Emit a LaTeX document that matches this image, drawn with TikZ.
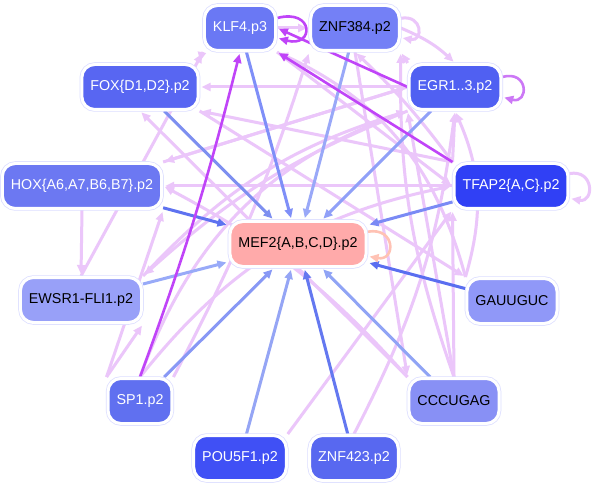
\documentclass[tikz,border=0pt]{standalone}
\usepackage{fontspec}
\setmainfont{Liberation Sans}
\usetikzlibrary{arrows.meta}
\pgfdeclarelayer{bg}
\pgfsetlayers{bg,main}
\definecolor{cKLF}{HTML}{6A78F4}
\definecolor{cZNFa}{HTML}{7480F6}
\definecolor{cFOX}{HTML}{5866F2}
\definecolor{cEGR}{HTML}{5060F2}
\definecolor{cHOX}{HTML}{6C78F2}
\definecolor{cTFAP}{HTML}{3040F5}
\definecolor{cMEF}{HTML}{FFAAAA}
\definecolor{cEWS}{HTML}{98A0F8}
\definecolor{cGAU}{HTML}{9098F8}
\definecolor{cSP}{HTML}{6070F0}
\definecolor{cCCC}{HTML}{8890F5}
\definecolor{cPOU}{HTML}{4050F5}
\definecolor{cZNFb}{HTML}{5868F0}
\definecolor{ring}{HTML}{DCDEFF}
\definecolor{pink}{HTML}{EBC6FA}
\definecolor{strong}{HTML}{C044F8}
\definecolor{loopc}{HTML}{CC78F6}
\definecolor{mefloop}{HTML}{FFC2B4}
\definecolor{bA}{HTML}{7F8FF8}
\definecolor{bB}{HTML}{99A8F8}
\definecolor{bC}{HTML}{7D8FF0}
\definecolor{bD}{HTML}{90A0F8}
\definecolor{bE}{HTML}{5E72F0}
\definecolor{bF}{HTML}{7A8AF5}
\definecolor{bG}{HTML}{98AAF8}
\definecolor{bH}{HTML}{5A6EF0}
\definecolor{bI}{HTML}{8898F5}
\definecolor{bJ}{HTML}{90A4F5}
\definecolor{bK}{HTML}{95A5F5}
\definecolor{bL}{HTML}{6478F0}
\tikzset{
  box/.style={rectangle, rounded corners=13pt, minimum height=45pt, inner xsep=8.5pt,
    font=\fontsize{14.3pt}{16pt}\selectfont,
    preaction={draw=ring, line width=4.5pt}, draw=white, line width=3pt},
  tip/.style={-{Triangle[length=9pt,width=8pt]}},
  tf/.style={tip, line width=3pt, draw=#1, shorten >=2pt},
  pk/.style={tip, line width=3pt, draw=pink, shorten >=2pt},
  st/.style={tip, line width=2.6pt, draw=strong, shorten >=2pt},
}
\begin{document}
\begin{tikzpicture}[x=1pt,y=-1pt]
\useasboundingbox (0,0) rectangle (597,489);
\begin{pgfonlayer}{bg}
\fill[white] (0,0) rectangle (597,489);
\end{pgfonlayer}

\node[box, fill=cKLF, text=white] (klf) at (240,28) {KLF4.p3};
\node[box, fill=cZNFa, text=black] (znfa) at (355,28) {ZNF384.p2};
\node[box, fill=cFOX, text=white] (fox) at (140,87) {FOX\{D1,D2\}.p2};
\node[box, fill=cEGR, text=white] (egr) at (455,87) {EGR1..3.p2};
\node[box, fill=cHOX, text=white] (hox) at (82,186) {HOX\{A6,A7,B6,B7\}.p2};
\node[box, fill=cTFAP, text=white] (tfap) at (511,186) {TFAP2\{A,C\}.p2};
\node[box, fill=cMEF, text=black] (mef) at (298,244) {MEF2\{A,B,C,D\}.p2};
\node[box, fill=cEWS, text=black] (ews) at (81,300) {EWSR1-FLI1.p2};
\node[box, fill=cGAU, text=black] (gau) at (512,301) {GAUUGUC};
\node[box, fill=cSP, text=white] (sp) at (140,401) {SP1.p2};
\node[box, fill=cCCC, text=black] (ccc) at (454,401) {CCCUGAG};
\node[box, fill=cPOU, text=white] (pou) at (240,458) {POU5F1.p2};
\node[box, fill=cZNFb, text=white] (znfb) at (354,458) {ZNF423.p2};

\begin{pgfonlayer}{bg}
% pink edges
\draw[pk] (klf) -- (znfa);
\draw[pk] (znfa.12) to[out=10,in=-10,looseness=3] (znfa.-12);
\draw[pk] (klf.south west) to[bend right=5] (fox.north east);
\draw[pk] (egr) -- (fox);
\draw[pk] (egr.north west) -- (znfa.south east);
\draw[pk] (znfa.east) to[bend left=10] (egr.north);
\draw[pk] (tfap.west) -- (hox.east);
\draw[pk] (tfap.north west) -- (fox.south east);
\draw[pk] (tfap.north west) -- (egr.south);
\draw[pk] (tfap.12) to[out=10,in=-10,looseness=2.6] (tfap.-12);
\draw[pk] (hox.north east) -- (egr.west);
\draw[pk] (ews.north east) to[bend left=15] (egr.south west);
\draw[pk] (hox.south) -- (ews.north);
\draw[pk] (sp.north west) -- (hox.south east);
\draw[pk] (sp.north west) -- (ews.south east);
\draw[pk] (sp.north) to[bend left=25] (egr.south west);
\draw[pk] (sp.north east) to[bend right=5] (znfa.south west);
\draw[pk] (sp.north) to[bend left=20] (tfap.west);
\draw[pk] (gau.north west) to[bend right=20] (egr.south);
\draw[pk] (gau.north west) to[bend right=25] (klf.south east);
\draw[pk] (ccc.north) -- (egr.south west);
\draw[pk] (ccc.north) -- (tfap.south west);
\draw[pk] (ccc.north west) to[bend right=10] (hox.east);
\draw[pk] (pou.north east) -- (tfap.south west);
\draw[pk] (znfb.north) to[bend right=10] (egr.south);
\draw[pk] (egr.south west) to[bend right=10] (ews.north east);
\draw[pk] (egr.west) -- (hox.north east);
\draw[pk] (klf.south east) -- (tfap.west);
\draw[pk] (fox.south east) -- (gau.north west);
\draw[pk] (znfa.south) -- (ccc.north west);
\draw[pk] (ews.north) -- (klf.south west);
\draw[pk] (ccc.north west) -- (fox.south);
\draw[pk] (ccc.north) to[bend left=10] (znfa.south east);
\draw[pk] (tfap.north west) to[bend right=5] (znfa.south);

% blue edges into MEF2
\draw[tf=bA] (klf) -- (mef);
\draw[tf=bB] (znfa) -- (mef);
\draw[tf=bC] (fox) -- (mef);
\draw[tf=bD] (egr) -- (mef);
\draw[tf=bE] (hox) -- (mef);
\draw[tf=bF] (tfap) -- (mef);
\draw[tf=bG] (ews) -- (mef);
\draw[tf=bH] (gau) -- (mef);
\draw[tf=bI] (sp) -- (mef);
\draw[tf=bJ] (ccc) -- (mef);
\draw[tf=bK] (pou) -- (mef);
\draw[tf=bL] (znfb) -- (mef);

% strong edges
\draw[st] (egr.west) -- (klf.east);
\draw[st] (tfap.north west) -- (klf.south east);
\draw[st] (sp.north) to[bend right=3] (klf.south);
\draw[st] (klf.15) to[out=15,in=-15,looseness=5] (klf.-15);
\draw[tip, line width=2.6pt, draw=loopc, shorten >=2pt] (egr.12) to[out=15,in=-15,looseness=3.5] (egr.-12);
\draw[tip, line width=2.6pt, draw=mefloop, shorten >=2pt] (mef.10) to[out=10,in=-10,looseness=3] (mef.-10);
\end{pgfonlayer}
\end{tikzpicture}
\end{document}
